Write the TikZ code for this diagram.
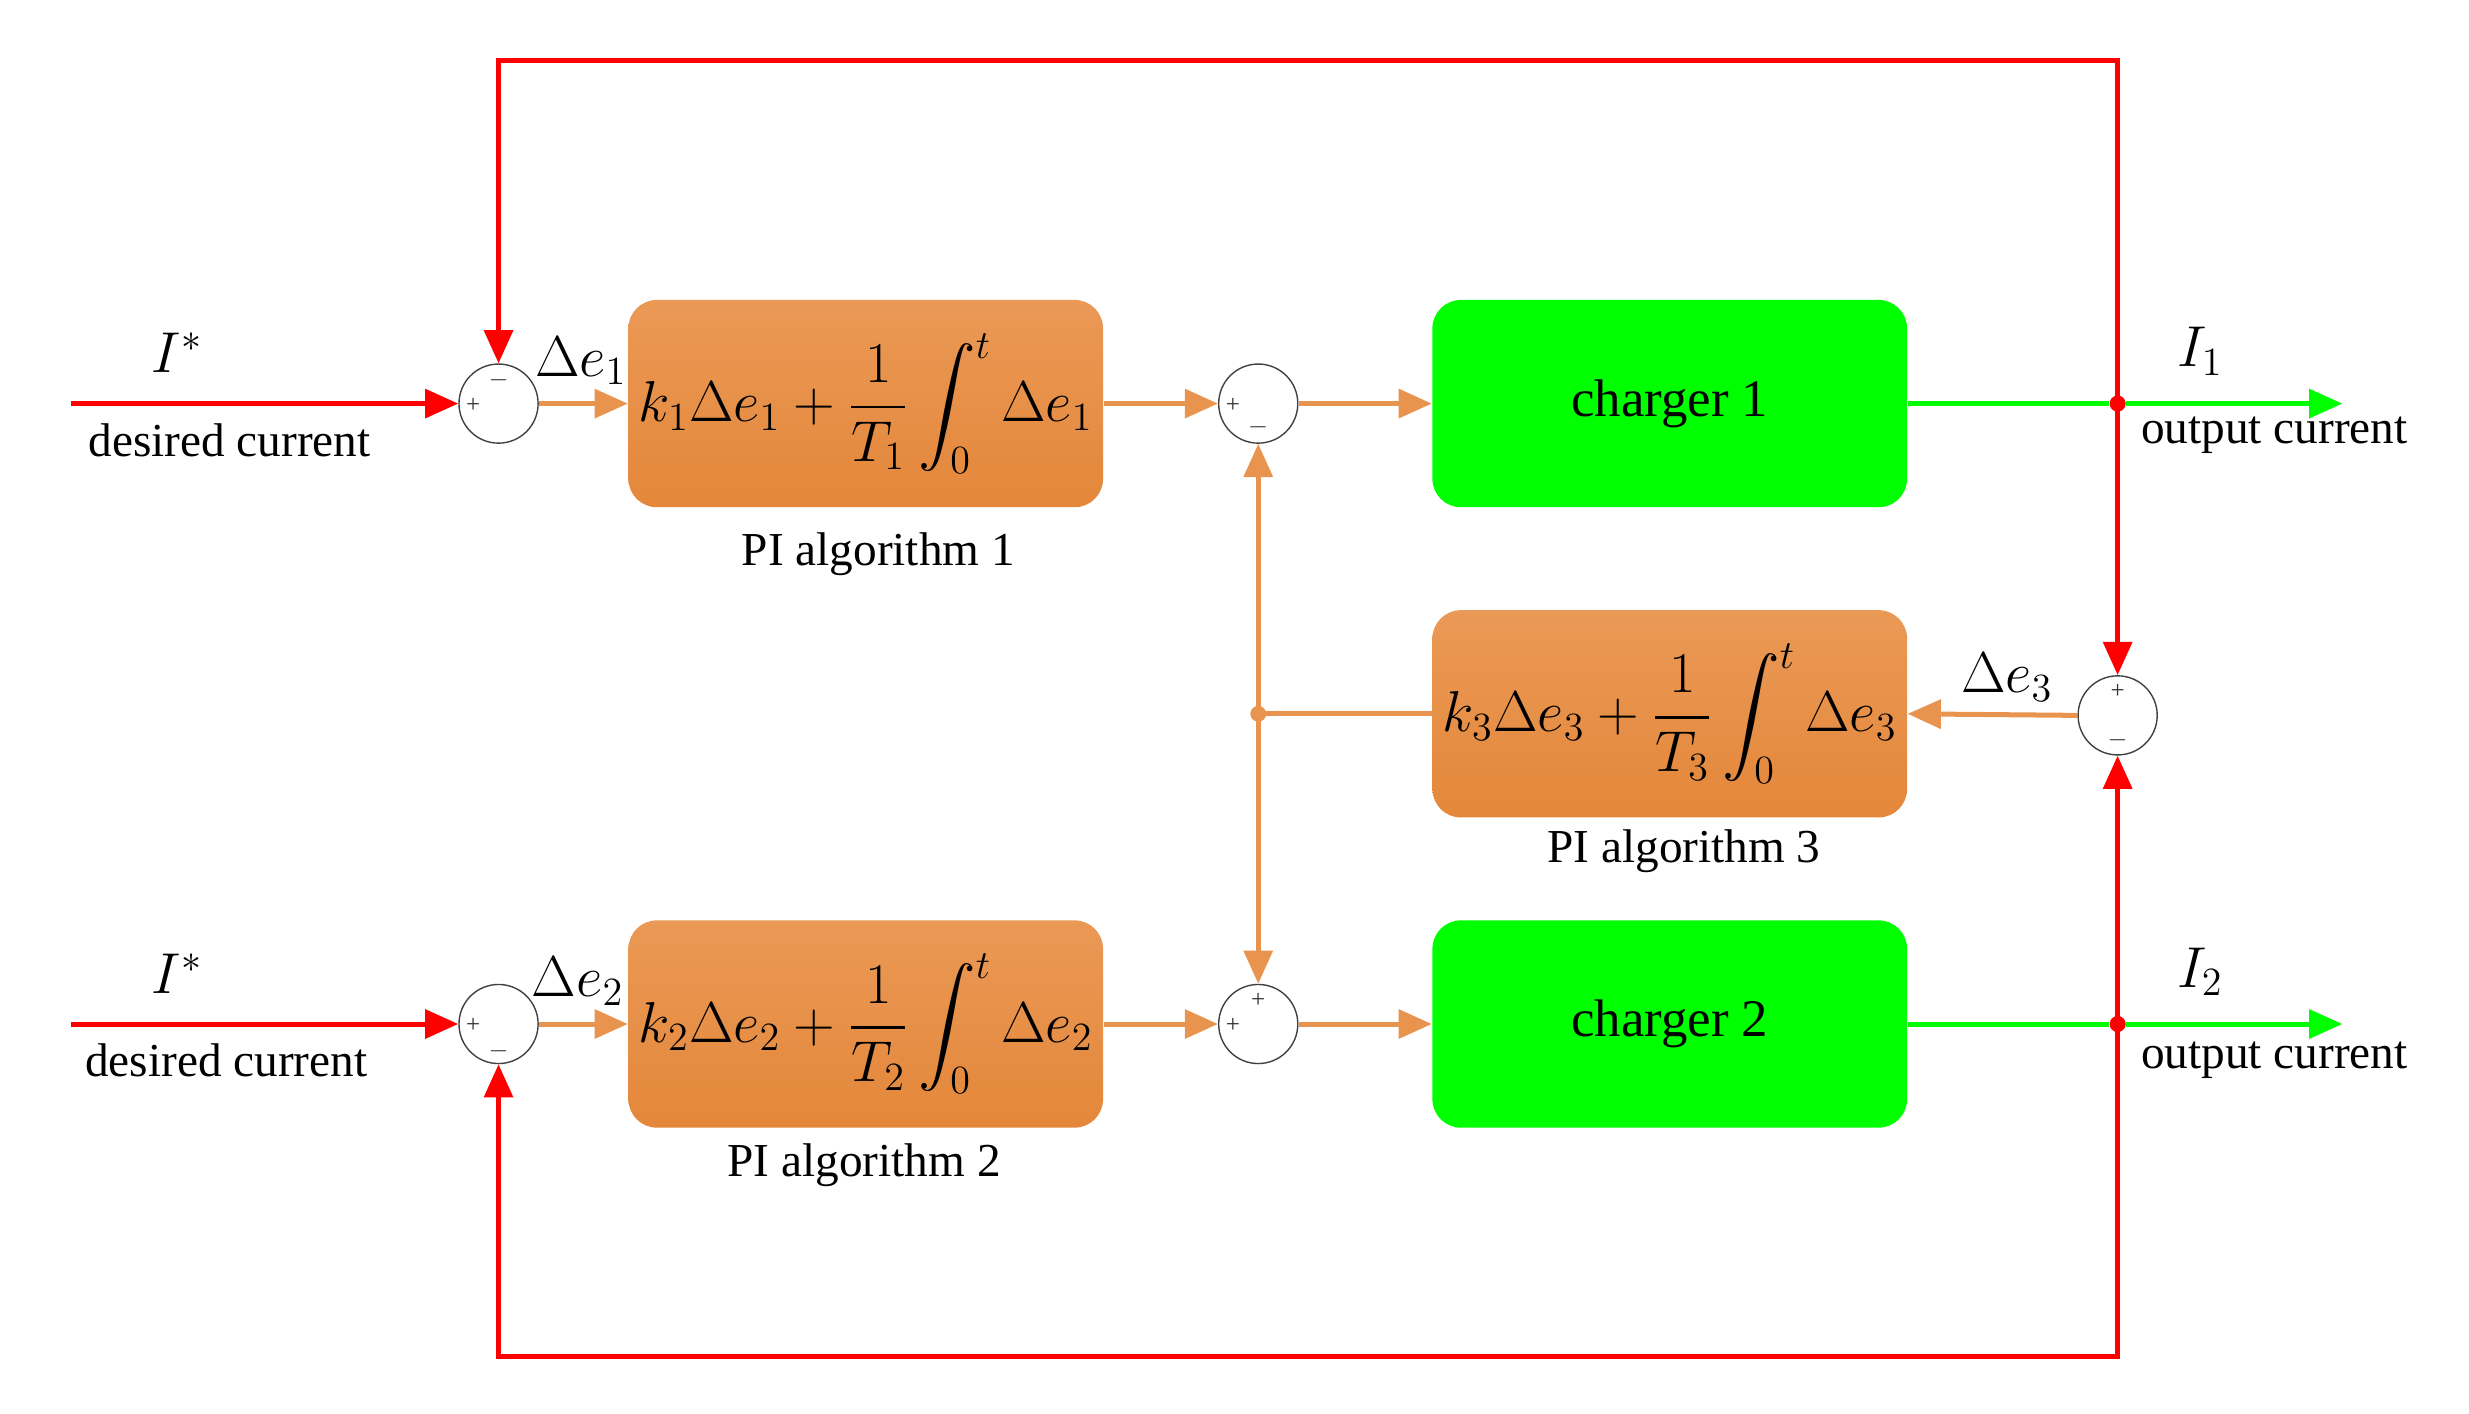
\documentclass[tikz,border=0pt]{standalone}
\usepackage{amsmath}
\usepackage{fontspec}
\setmainfont{Liberation Serif}
\usetikzlibrary{arrows.meta}
\definecolor{org}{HTML}{E8944E}
\definecolor{orgT}{HTML}{EA9956}
\definecolor{orgB}{HTML}{E4873A}
\definecolor{grn}{HTML}{00FF00}
\begin{document}
\begin{tikzpicture}[x=0.02cm,y=-0.02cm,
  lbl/.style={font=\fontsize{17}{20}\selectfont},
  fm/.style={font=\fontsize{21}{25}\selectfont},
  piblk/.style={rectangle,rounded corners=0.36cm,minimum width=6cm,minimum height=2.62cm,top color=orgT,bottom color=orgB,draw=none,fm},
  ch/.style={rectangle,rounded corners=0.36cm,minimum width=6cm,minimum height=2.62cm,fill=grn,draw=none,font=\fontsize{19}{22}\selectfont},
  sum/.style={circle,draw=black!75,line width=0.5pt,fill=white,minimum size=1cm,inner sep=0pt},
  sg/.style={font=\fontsize{9}{10}\selectfont,text=black!80,inner sep=0pt},
  rtip/.style={-{Triangle[length=0.42cm,width=0.36cm]}},
  red/.style={draw=red,line width=1.8pt},
  ol/.style={draw=org,line width=1.8pt},
  gl/.style={draw=grn,line width=1.8pt},
  dot/.style={circle,inner sep=0pt,minimum size=0.2cm}
]
\useasboundingbox (0,0) rectangle (1560,893);
% blocks
\node[piblk] (pi1) at (547,255) {$\displaystyle k_1\Delta e_1+\frac{1}{T_1}\int_0^t\Delta e_1$};
\node[piblk] (pi2) at (547,647) {$\displaystyle k_2\Delta e_2+\frac{1}{T_2}\int_0^t\Delta e_2$};
\node[piblk] (pi3) at (1055,451) {$\displaystyle k_3\Delta e_3+\frac{1}{T_3}\int_0^t\Delta e_3$};
\node[ch] (c1) at (1055,255) {charger 1};
\node[ch] (c2) at (1055,647) {charger 2};
% sums
\node[sum] (s1) at (315,255) {};
\node[sum] (s2) at (315,647) {};
\node[sum] (s3) at (795,255) {};
\node[sum] (s4) at (795,647) {};
\node[sum] (s5) at (1338,452) {};
\node[sg] at (299,256) {+}; \node[sg] at (315,240) {$-$};
\node[sg] at (299,648) {+}; \node[sg] at (315,664) {$-$};
\node[sg] at (779,256) {+}; \node[sg] at (795,270) {$-$};
\node[sg] at (779,648) {+}; \node[sg] at (795,632) {+};
\node[sg] at (1338,437) {+}; \node[sg] at (1338,468) {$-$};
% junctions
\node[dot,fill=red] (j1) at (1338,255) {};
\node[dot,fill=red] (j2) at (1338,647) {};
\coordinate (j3) at (795,451);
\coordinate (in1) at (45,255); \coordinate (in2) at (45,647);
\coordinate (o1) at (1480,255); \coordinate (o2) at (1480,647);
\coordinate (t1) at (1338,38); \coordinate (t2) at (315,38);
\coordinate (b1) at (1338,857); \coordinate (b2) at (315,857);
% red lines
\draw[red,rtip] (in1) -- (s1.west);
\draw[red,rtip] (in2) -- (s2.west);
\draw[red,rtip] (j1.center) -- (t1) -- (t2) -- (s1.north);
\draw[red,rtip] (j2.center) -- (b1) -- (b2) -- (s2.south);
\draw[red,rtip] (j1.center) -- (s5.north);
\draw[red,rtip] (j2.center) -- (s5.south);
% green
\draw[gl] (c1.east) -- (j1);
\draw[gl,rtip] (j1) -- (o1);
\draw[gl] (c2.east) -- (j2);
\draw[gl,rtip] (j2) -- (o2);
\node[dot,fill=red] at (j1) {};
\node[dot,fill=red] at (j2) {};
% orange
\draw[ol,rtip] (s1.east) -- (pi1.west);
\draw[ol,rtip] (s2.east) -- (pi2.west);
\draw[ol,rtip] (pi1.east) -- (s3.west);
\draw[ol,rtip] (pi2.east) -- (s4.west);
\draw[ol,rtip] (s3.east) -- (c1.west);
\draw[ol,rtip] (s4.east) -- (c2.west);
\draw[ol,rtip] (s5.west) -- (pi3.east);
\draw[ol] (pi3.west) -- (j3);
\draw[ol,rtip] (j3) -- (s3.south);
\draw[ol,rtip] (j3) -- (s4.north);
\node[dot,fill=org,minimum size=0.2cm] (j3d) at (j3) {};
% labels
\node[fm] at (112,223) {$I^*$};
\node[fm] at (112,615) {$I^*$};
\node[lbl] at (145,278) {desired current};
\node[lbl] at (143,670) {desired current};
\node[fm] at (367,228) {$\Delta e_1$};
\node[fm] at (365,620) {$\Delta e_2$};
\node[fm] at (1268,428) {$\Delta e_3$};
\node[fm] at (1390,222) {$I_1$};
\node[fm] at (1390,614) {$I_2$};
\node[lbl] at (1437,275) {output current};
\node[lbl] at (1437,670) {output current};
\node[lbl] at (555,350) {PI algorithm 1};
\node[lbl] at (546,736) {PI algorithm 2};
\node[lbl] at (1064,538) {PI algorithm 3};
\end{tikzpicture}
\end{document}
